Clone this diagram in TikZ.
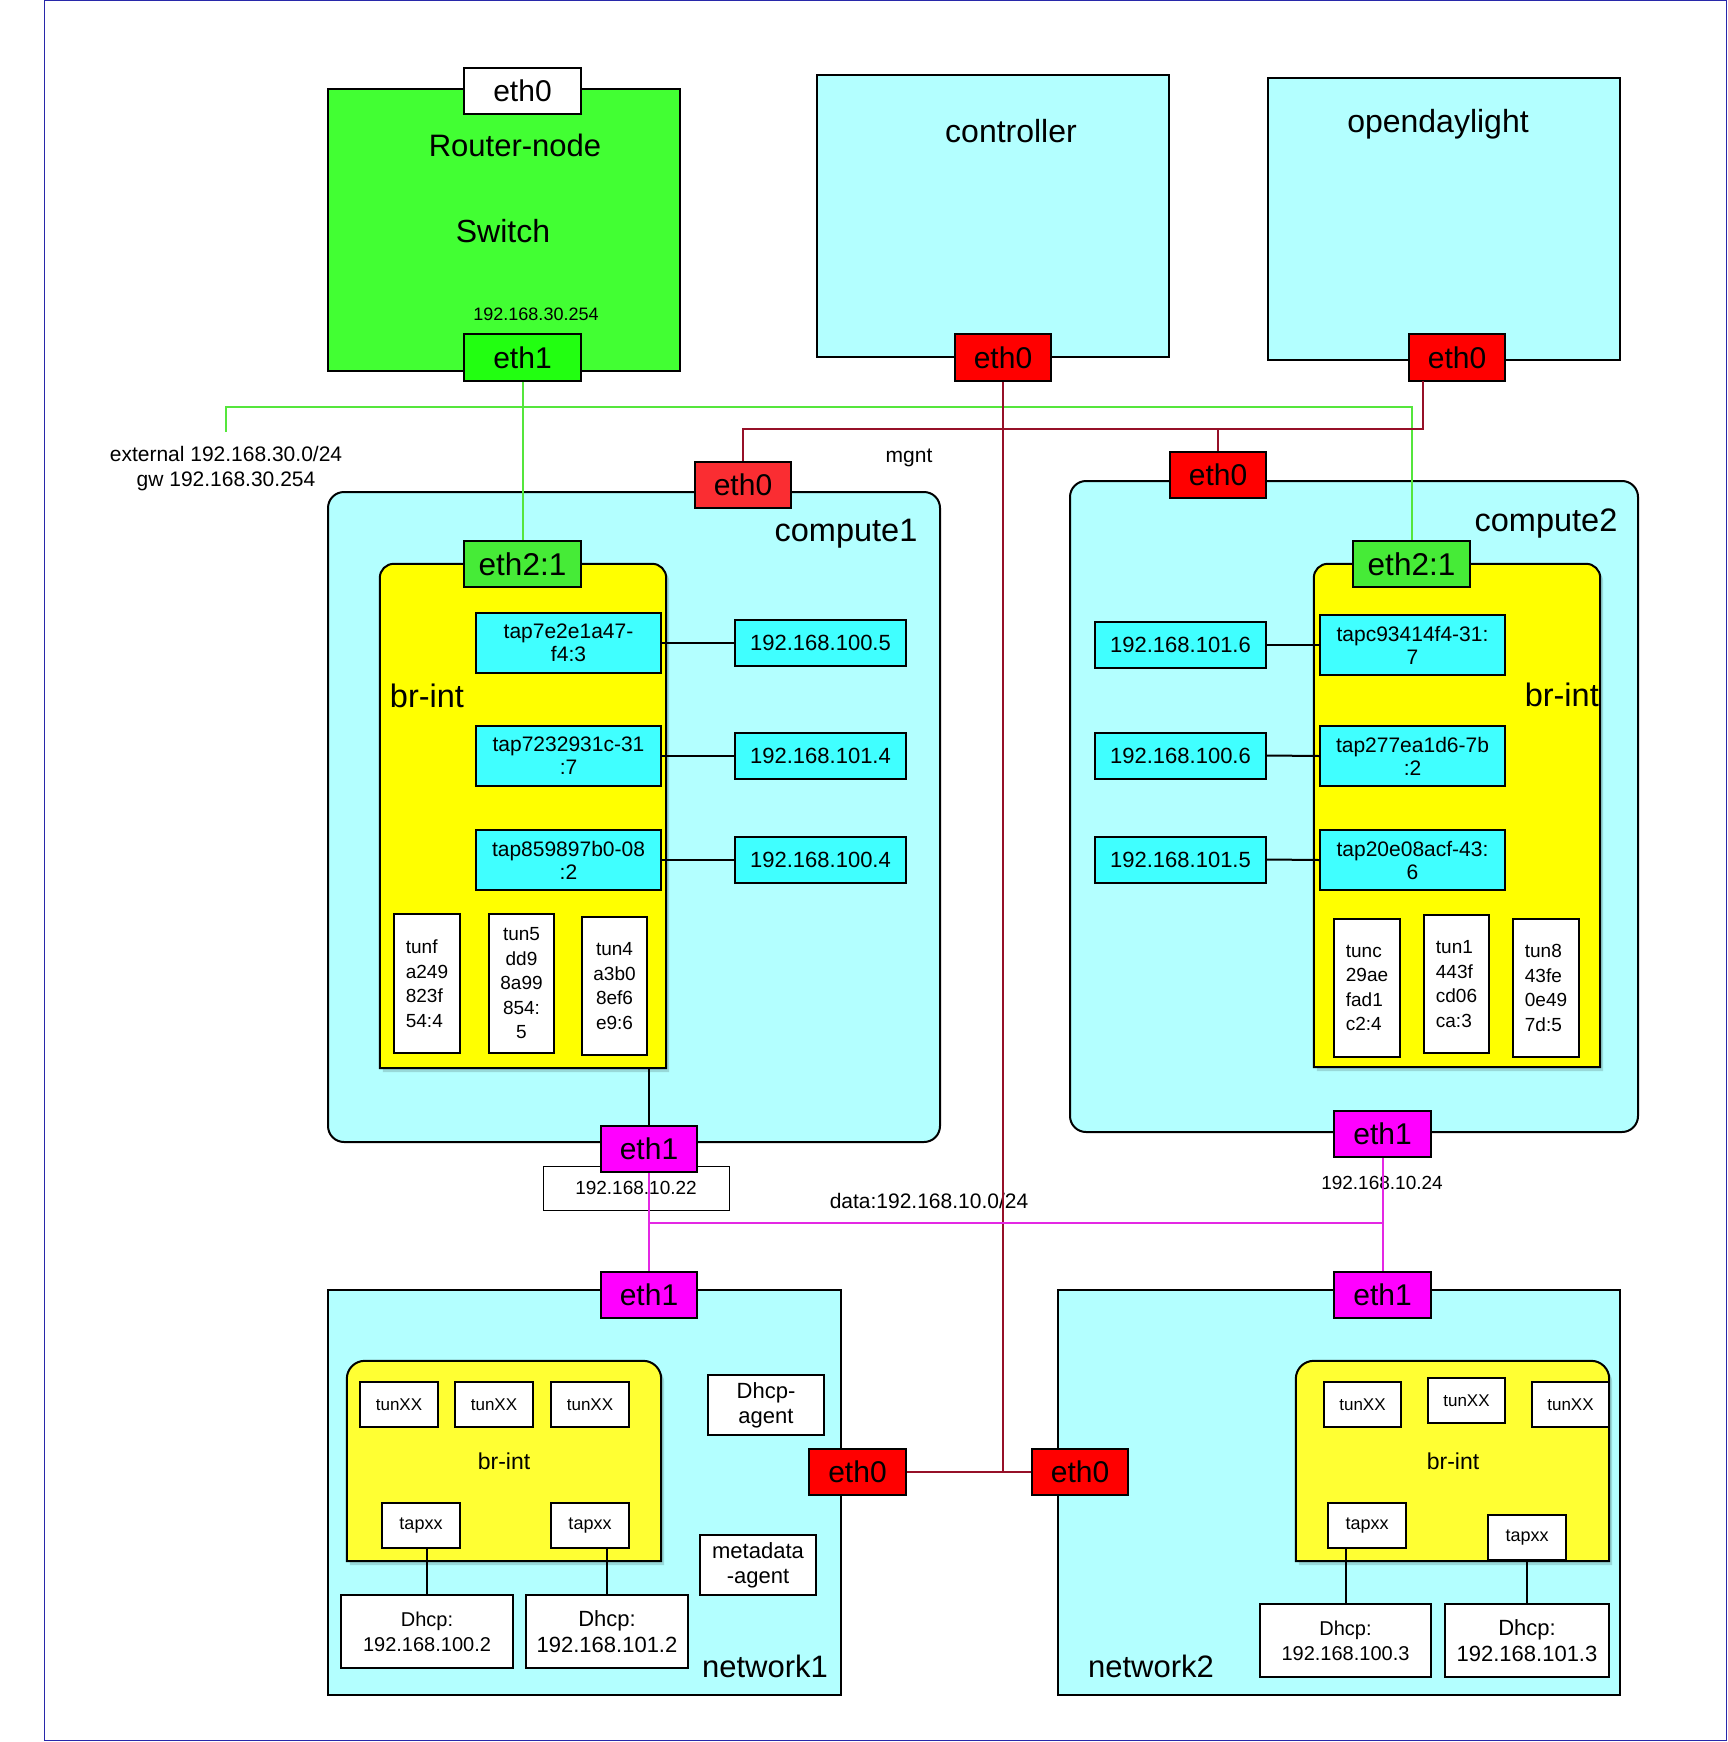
\documentclass[tikz,border=0pt]{standalone}
\usepackage{fontspec}
\setmainfont{Liberation Sans}
\definecolor{rgreen}{RGB}{66,255,51}
\definecolor{e1green}{RGB}{34,255,17}
\definecolor{e2green}{RGB}{70,235,55}
\definecolor{paleC}{RGB}{179,255,255}
\definecolor{tapC}{RGB}{64,255,255}
\definecolor{ethred}{RGB}{255,0,0}
\definecolor{ethredL}{RGB}{250,45,50}
\definecolor{ethmag}{RGB}{255,0,255}
\definecolor{brY}{RGB}{255,255,0}
\definecolor{brYn}{RGB}{255,255,51}
\definecolor{mgline}{RGB}{150,16,40}
\definecolor{gline}{RGB}{85,230,60}
\definecolor{mline}{RGB}{228,40,228}
\definecolor{frameblue}{RGB}{40,40,170}
\newcommand\myfs[2]{\fontsize{#1}{#2}\selectfont}
% yellow bridge with rounded top corners: node name, colour, radius
\newcommand\topround[3]{%
  \fill[black,opacity=0.15] ([xshift=3pt,yshift=-4pt]#1.south west) -- ([xshift=3pt,yshift=-#3-4pt]#1.north west)
    arc[start angle=180,end angle=90,radius=#3] -- ([xshift=-#3+3pt,yshift=-4pt]#1.north east)
    arc[start angle=90,end angle=0,radius=#3] -- ([xshift=3pt,yshift=-4pt]#1.south east) -- cycle;
  \filldraw[fill=#2,line width=2pt] (#1.south west) -- ([yshift=-#3]#1.north west)
    arc[start angle=180,end angle=90,radius=#3] -- ([xshift=-#3]#1.north east)
    arc[start angle=90,end angle=0,radius=#3] -- (#1.south east) -- cycle;}
\begin{document}
\begin{tikzpicture}[x=1pt,y=-1pt,
  bx/.style={draw, line width=2pt, inner sep=0pt, align=center},
  big/.style={bx, fill=paleC},
  eth/.style={bx, font=\myfs{30}{34}},
  tapb/.style={bx, fill=tapC, font=\myfs{21}{23}, minimum width=185pt, minimum height=60pt},
  ipb/.style={bx, fill=tapC, font=\myfs{22}{26}, minimum width=171pt, minimum height=46pt},
  tunb/.style={bx, fill=white, font=\myfs{19}{24.5}, minimum width=65pt, minimum height=138pt},
  wb/.style={bx, fill=white},
  nwb/.style={bx, fill=white, font=\myfs{17}{20}, minimum width=78pt, minimum height=45pt},
  lbl/.style={inner sep=0pt, align=center},
  area/.style={inner sep=0pt, draw=none},
  conn/.style={line width=2pt},
  gl/.style={gline, line width=2pt},
  ml/.style={mgline, line width=2pt},
  mg/.style={mline, line width=2pt}]
\useasboundingbox (0,0) rectangle (1728,1742);
\draw[frameblue, line width=1pt] (44,1) rectangle (1726,1740);

% ---------- Router ----------
\node[big, fill=rgreen, minimum width=352pt, minimum height=282pt] (router) at (504,230) {};
\node[eth, fill=white, minimum width=117pt, minimum height=46pt] (reth0) at (522.5,91) {eth0};
\node[eth, fill=e1green, minimum width=117pt, minimum height=47pt] (reth1) at (522.5,357.5) {eth1};
\node[lbl, font=\myfs{31}{36}] (rtxt) at (515,145) {Router-node};
\node[lbl, font=\myfs{32}{36}] (swtxt) at (503,231) {Switch};
\node[lbl, font=\myfs{18}{20}] (riptxt) at (536,314) {192.168.30.254};

% ---------- Controller / ODL ----------
\node[big, minimum width=352pt, minimum height=282pt] (ctl) at (993,216) {};
\node[lbl, font=\myfs{32}{36}] (ctltxt) at (1011,131) {controller};
\node[eth, fill=ethred, minimum width=96pt, minimum height=47pt] (ctleth0) at (1003,357.5) {eth0};
\node[big, minimum width=352pt, minimum height=282pt] (odl) at (1444,219) {};
\node[lbl, font=\myfs{32}{36}] (odltxt) at (1438,124) {opendaylight};
\node[eth, fill=ethred, minimum width=96pt, minimum height=47pt] (odleth0) at (1457,357.5) {eth0};
\coordinate (odlp) at (1423,381);

\node[lbl, font=\myfs{21}{25}] (exttxt) at (226,468.5) {external 192.168.30.0/24\\gw 192.168.30.254};
\coordinate (ext) at (226,432);
\node[lbl, font=\myfs{21}{25}] (mgnttxt) at (909,458) {mgnt};

% ---------- compute1 ----------
\node[big, rounded corners=16pt, minimum width=612pt, minimum height=650pt] (c1) at (634,817) {};
\node[lbl, font=\myfs{32.5}{36}] (c1txt) at (846,534) {compute1};
\node[area, minimum width=286pt, minimum height=504pt] (br1) at (523,816) {};
\topround{br1}{brY}{14pt}
\node[lbl, font=\myfs{32.5}{36}] (br1txt) at (427,696) {br-int};
\node[tapb] (c1t1) at (568.5,643) {tap7e2e1a47-\\f4:3};
\node[tapb] (c1t2) at (568.5,756) {tap7232931c-31\\:7};
\node[tapb] (c1t3) at (568.5,860) {tap859897b0-08\\:2};
\node[ipb] (c1i1) at (820.5,643) {192.168.100.5};
\node[ipb] (c1i2) at (820.5,756) {192.168.101.4};
\node[ipb] (c1i3) at (820.5,860) {192.168.100.4};
\node[tunb, align=left, minimum width=66pt, minimum height=139pt] (c1u1) at (427,983.5) {tunf\\a249\\823f\\54:4};
\node[tunb, minimum width=65pt, minimum height=139pt] (c1u2) at (521.5,983.5) {tun5\\dd9\\8a99\\854:\\5};
\node[tunb, minimum width=65pt, minimum height=138pt] (c1u3) at (614.5,986) {tun4\\a3b0\\8ef6\\e9:6};
\node[eth, fill=ethredL, minimum width=96pt, minimum height=46pt] (c1eth0) at (743,485) {eth0};
\node[eth, fill=e2green, font=\myfs{31.5}{34}, minimum width=117pt, minimum height=46pt] (c1eth2) at (522.5,564) {eth2:1};
\node[bx, line width=1pt, fill=white, font=\myfs{19}{22}, minimum width=186pt, minimum height=44pt] (c1ip) at (636,1188) {192.168.10.22};
\node[eth, fill=ethmag, minimum width=96pt, minimum height=46pt] (c1eth1) at (649,1149) {eth1};

% ---------- compute2 ----------
\node[big, rounded corners=16pt, minimum width=568pt, minimum height=651pt] (c2) at (1354,806.5) {};
\node[lbl, font=\myfs{32.5}{36}] (c2txt) at (1546,524) {compute2};
\node[area, minimum width=286pt, minimum height=503pt] (br2) at (1457,815.5) {};
\topround{br2}{brY}{14pt}
\node[lbl, font=\myfs{32.5}{36}, anchor=east] (br2txt) at (1599,695) {br-int};
\node[tapb] (c2t1) at (1412.5,645) {tapc93414f4-31:\\7};
\node[tapb] (c2t2) at (1412.5,756) {tap277ea1d6-7b\\:2};
\node[tapb] (c2t3) at (1412.5,860) {tap20e08acf-43:\\6};
\node[ipb] (c2i1) at (1180.5,645) {192.168.101.6};
\node[ipb] (c2i2) at (1180.5,755.5) {192.168.100.6};
\node[ipb] (c2i3) at (1180.5,859.5) {192.168.101.5};
\node[tunb, align=left, minimum width=66pt] (c2u1) at (1367,988) {tunc\\29ae\\fad1\\c2:4};
\node[tunb, align=left, minimum width=65pt] (c2u2) at (1456.5,984) {tun1\\443f\\cd06\\ca:3};
\node[tunb, align=left, minimum width=66pt] (c2u3) at (1546,988) {tun8\\43fe\\0e49\\7d:5};
\node[eth, fill=ethred, minimum width=96pt, minimum height=46pt] (c2eth0) at (1218,475) {eth0};
\node[eth, fill=e2green, font=\myfs{31.5}{34}, minimum width=117pt, minimum height=46pt] (c2eth2) at (1411.5,564) {eth2:1};
\node[eth, fill=ethmag, minimum width=97pt, minimum height=46pt] (c2eth1) at (1382.5,1134) {eth1};
\node[lbl, font=\myfs{19}{22}] (c2iptxt) at (1382,1183) {192.168.10.24};

\node[lbl, font=\myfs{21}{25}] (datatxt) at (929,1201) {data:192.168.10.0/24};

% ---------- network1 ----------
\node[big, minimum width=513pt, minimum height=405pt] (n1) at (584.5,1492.5) {};
\node[area, minimum width=314pt, minimum height=200pt] (nb1) at (504,1461) {};
\topround{nb1}{brYn}{18pt}
\node[lbl, font=\myfs{23}{26}] (nb1txt) at (504,1461) {br-int};
\node[nwb] (n1u1) at (399,1404.5) {tunXX};
\node[nwb] (n1u2) at (494,1404.5) {tunXX};
\node[nwb] (n1u3) at (590,1404.5) {tunXX};
\node[nwb, font=\myfs{18}{20}] (n1p1) at (421,1525.5) {tapxx};
\node[nwb, font=\myfs{18}{20}] (n1p2) at (590,1525.5) {tapxx};
\node[wb, font=\myfs{20}{25}, minimum width=172pt, minimum height=73pt] (n1d1) at (427,1631.5) {Dhcp:\\192.168.100.2};
\node[wb, font=\myfs{22}{26}, minimum width=162pt, minimum height=73pt] (n1d2) at (607,1631.5) {Dhcp:\\192.168.101.2};
\node[wb, font=\myfs{22}{25}, minimum width=116pt, minimum height=60pt] (dagent) at (766,1405) {Dhcp-\\agent};
\node[wb, font=\myfs{22}{25}, minimum width=116pt, minimum height=60pt] (magent) at (758,1565) {metadata\\-agent};
\node[lbl, font=\myfs{31}{36}] (n1txt) at (765,1666) {network1};
\node[eth, fill=ethmag, minimum width=96pt, minimum height=46pt] (n1eth1) at (649,1295) {eth1};
\node[eth, fill=ethred, minimum width=97pt, minimum height=46pt] (n1eth0) at (857.5,1472) {eth0};

% ---------- network2 ----------
\node[big, minimum width=562pt, minimum height=405pt] (n2) at (1339,1492.5) {};
\node[area, minimum width=313pt, minimum height=200pt] (nb2) at (1452.5,1461) {};
\topround{nb2}{brYn}{18pt}
\node[lbl, font=\myfs{23}{26}] (nb2txt) at (1453,1461) {br-int};
\node[nwb, minimum width=77pt] (n2u1) at (1362.5,1404.5) {tunXX};
\node[nwb, minimum width=77pt] (n2u2) at (1466.5,1400.5) {tunXX};
\node[nwb, minimum width=77pt] (n2u3) at (1570.5,1404.5) {tunXX};
\node[nwb, font=\myfs{18}{20}] (n2p1) at (1367,1525.5) {tapxx};
\node[nwb, font=\myfs{18}{20}] (n2p2) at (1527,1537.5) {tapxx};
\node[wb, font=\myfs{20}{25}, minimum width=171pt, minimum height=73pt] (n2d1) at (1345.5,1640.5) {Dhcp:\\192.168.100.3};
\node[wb, font=\myfs{22}{26}, minimum width=164pt, minimum height=73pt] (n2d2) at (1527,1640.5) {Dhcp:\\192.168.101.3};
\node[lbl, font=\myfs{31}{36}] (n2txt) at (1151,1666) {network2};
\node[eth, fill=ethmag, minimum width=97pt, minimum height=46pt] (n2eth1) at (1382.5,1295) {eth1};
\node[eth, fill=ethred, minimum width=96pt, minimum height=46pt] (n2eth0) at (1080,1472) {eth0};

% ---------- connectors ----------
\coordinate (gy) at (0,407);
\coordinate (my) at (0,429);
\coordinate (dy) at (0,1223);
\draw[gl] (reth1.south) -- (c1eth2.north);
\draw[gl] (ext) -- (ext |- gy) -- (c2eth2.north |- gy) -- (c2eth2.north);
\draw[ml] (c1eth0.north) -- (c1eth0.north |- my) -- (odlp |- my) -- (odlp);
\draw[ml] (c2eth0.north) -- (c2eth0.north |- my);
\draw[ml] (ctleth0.south) -- (ctleth0.south |- n1eth0.east);
\draw[ml] (n1eth0.east) -- (n2eth0.west);
\draw[mg] (c1eth1.south) -- (n1eth1.north);
\draw[mg] (c1eth1.south |- dy) -- (c2eth1.south |- dy);
\draw[mg] (c2eth1.south) -- (n2eth1.north);
\draw[conn] (br1.south -| c1eth1.north) -- (c1eth1.north);
\foreach \a/\b in {c1t1/c1i1, c1t2/c1i2, c1t3/c1i3}{\draw[conn] (\a.east) -- (\b.west);}
\foreach \a/\b in {c2i1/c2t1, c2i2/c2t2, c2i3/c2t3}{\draw[conn] (\a.east) -- (\b.west);}
\foreach \a/\b in {n1p1/n1d1, n1p2/n1d2, n2p1/n2d1, n2p2/n2d2}{\draw[conn] (\b.north) -- (\b.north |- \a.south);}
\end{tikzpicture}
\end{document}
